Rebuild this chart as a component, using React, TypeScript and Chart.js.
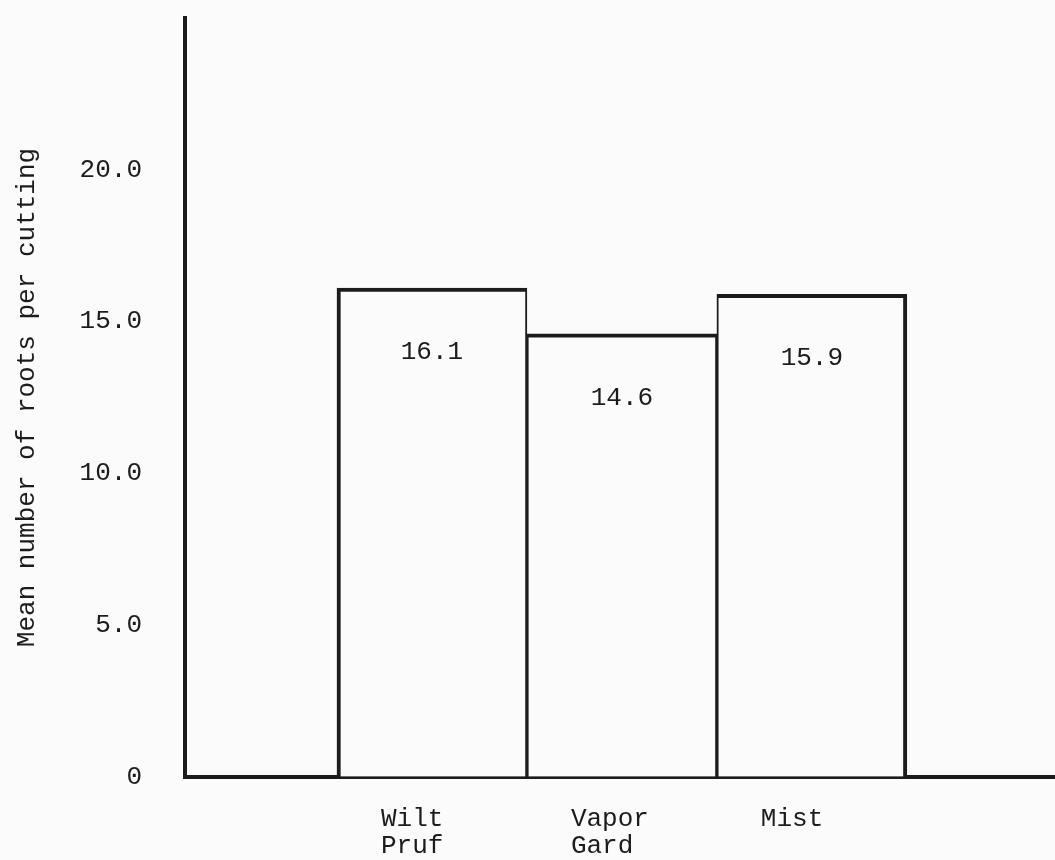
import React, { useEffect, useRef } from "react";
import { Chart, registerables } from "chart.js";

Chart.register(...registerables);

// ---- data ----
const categories: string[][] = [["Wilt", "Pruf"], ["Vapor", "Gard"], ["Mist"]];
const meanRoots: number[] = [16.1, 14.6, 15.9];
const valueLabels: string[] = ["16.1", "14.6", "15.9"];
const yTickValues: number[] = [0, 5, 10, 15, 20];
const yTickLabels: string[] = ["0", "5.0", "10.0", "15.0", "20.0"];
const yAxisTitle = "Mean number of roots per cutting";

// ---- style ----
const FONT = "'Liberation Mono', 'DejaVu Sans Mono', monospace";
const INK = "#1c1c1c";
const PAPER = "#fbfbfb";

const valueLabelPlugin = {
  id: "valueLabels",
  afterDatasetsDraw(chart: any) {
    const ctx = chart.ctx;
    const meta = chart.getDatasetMeta(0);
    ctx.save();
    ctx.font = `26px ${FONT}`;
    ctx.fillStyle = INK;
    ctx.textAlign = "center";
    ctx.textBaseline = "middle";
    meta.data.forEach((bar: any, i: number) => {
      ctx.fillText(valueLabels[i], bar.x, bar.y + 64);
    });
    ctx.restore();
  },
};

export default function App() {
  const canvasRef = useRef<HTMLCanvasElement | null>(null);

  useEffect(() => {
    if (!canvasRef.current) return;
    const last = meanRoots.length - 1;
    const chart = new Chart(canvasRef.current, {
      type: "bar",
      data: {
        datasets: [
          {
            data: meanRoots.map((v, i) => ({ x: i + 1, y: v })),
            backgroundColor: PAPER,
            borderColor: INK,
            borderWidth: (c: any) => ({
              top: 4,
              left: c.dataIndex === 0 ? 4 : 2,
              right: c.dataIndex === last ? 4 : 2,
              bottom: 0,
            }),
            borderSkipped: "bottom",
            barPercentage: 1,
            categoryPercentage: 1,
          } as any,
        ],
      },
      options: {
        responsive: false,
        animation: false,
        layout: { padding: { top: 18, left: 0, right: 0, bottom: 0 } },
        plugins: {
          legend: { display: false },
          tooltip: { enabled: false },
        },
        scales: {
          x: {
            type: "linear",
            min: -0.3,
            max: 4.28,
            offset: false,
            position: "bottom",
            z: 1,
            grid: {
              display: true,
              offset: false,
              drawOnChartArea: false,
              drawTicks: false,
              color: "rgba(0,0,0,0)",
            },
            border: { display: true, color: INK, width: 4 },
            afterBuildTicks: (s: any) => {
              s.ticks = categories.map((_, i) => ({ value: i + 1 }));
            },
            ticks: {
              autoSkip: false,
              maxRotation: 0,
              minRotation: 0,
              align: "start",
              labelOffset: -51,
              padding: 29,
              color: INK,
              font: { family: FONT, size: 26, lineHeight: 1.04 },
              callback: (_v: any, i: number) => categories[i] ?? "",
            },
            afterFit: (s: any) => {
              s.height = 83;
              s.paddingLeft = 0;
              s.paddingRight = 0;
            },
          } as any,
          y: {
            type: "linear",
            min: 0,
            max: 25,
            position: "left",
            grid: {
              display: true,
              drawOnChartArea: false,
              drawTicks: false,
              color: "rgba(0,0,0,0)",
            },
            border: { display: true, color: INK, width: 4 },
            afterBuildTicks: (s: any) => {
              s.ticks = yTickValues.map((v) => ({ value: v }));
            },
            ticks: {
              padding: 43,
              color: INK,
              font: { family: FONT, size: 26 },
              callback: (_v: any, i: number) => yTickLabels[i] ?? "",
            },
            title: {
              display: true,
              text: yAxisTitle,
              color: INK,
              font: { family: FONT, size: 26 },
              padding: { top: 12, bottom: 0 },
            },
            afterFit: (s: any) => {
              s.width = 185;
              s.paddingTop = 0;
              s.paddingBottom = 0;
            },
          } as any,
        },
      },
      plugins: [valueLabelPlugin],
    });
    return () => chart.destroy();
  }, []);

  return (
    <div
      style={{
        position: "absolute",
        left: 0,
        top: 0,
        width: 1055,
        height: 860,
        background: PAPER,
      }}
    >
      <canvas
        ref={canvasRef}
        width={1055}
        height={860}
        style={{ display: "block", width: 1055, height: 860 }}
      />
    </div>
  );
}
